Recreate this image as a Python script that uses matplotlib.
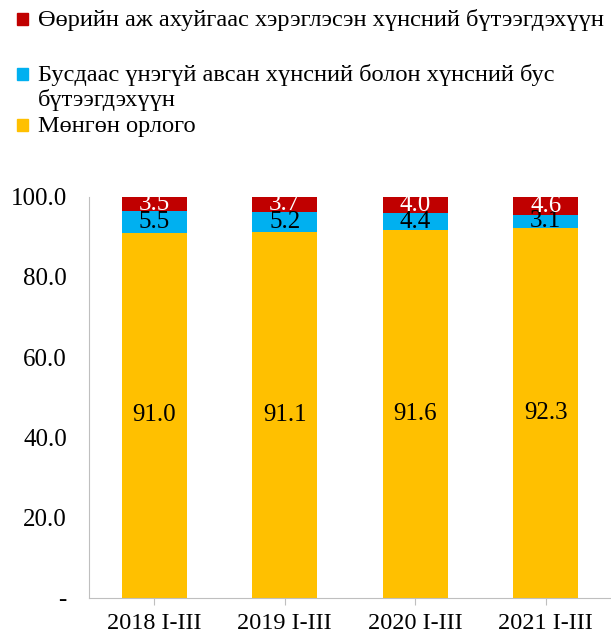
import matplotlib.pyplot as plt
from matplotlib.patches import Rectangle

plt.rcParams['font.family'] = ['Liberation Serif', 'DejaVu Serif']

categories = ['2018 I-III', '2019 I-III', '2020 I-III', '2021 I-III']
income = [91.0, 91.1, 91.6, 92.3]
free_goods = [5.5, 5.2, 4.4, 3.1]
own_farm = [3.5, 3.7, 4.0, 4.6]

series_names = ['Өөрийн аж ахуйгаас хэрэглэсэн хүнсний бүтээгдэхүүн',
                'Бусдаас үнэгүй авсан хүнсний болон хүнсний бус\nбүтээгдэхүүн',
                'Мөнгөн орлого']

c_red = '#C00000'
c_blue = '#00B0F0'
c_yellow = '#FFC000'

fig = plt.figure(figsize=(6.11, 6.33), dpi=100)
ax = fig.add_axes([0.1457, 0.0553, 0.8543, 0.634])

x = range(len(categories))
w = 0.5
b1 = ax.bar(x, income, w, color=c_yellow)
b2 = ax.bar(x, free_goods, w, bottom=income, color=c_blue)
bottom3 = [a + b for a, b in zip(income, free_goods)]
b3 = ax.bar(x, own_farm, w, bottom=bottom3, color=c_red)

ax.bar_label(b1, fmt='%.1f', label_type='center', fontsize=18, color='black')
ax.bar_label(b2, fmt='%.1f', label_type='center', fontsize=18, color='black')
ax.bar_label(b3, fmt='%.1f', label_type='center', fontsize=18, color='white')

ax.set_xlim(-0.5, 3.5)
ax.set_ylim(0, 100)
ax.set_xticks(list(x))
ax.set_xticklabels(categories)
ax.set_yticks([0, 20, 40, 60, 80, 100])
ax.set_yticklabels(['-', '20.0', '40.0', '60.0', '80.0', '100.0'])
ax.tick_params(axis='y', length=0, pad=16, labelsize=18)
ax.tick_params(axis='x', length=5, pad=6, labelsize=17.5, color='#BFBFBF')
for s in ['top', 'right']:
    ax.spines[s].set_visible(False)
for s in ['left', 'bottom']:
    ax.spines[s].set_color('#BFBFBF')

# legend drawn by hand to keep Excel spacing (y in pixels from top)
H = 633.0
legend_rows = [(20, c_red, series_names[0]),
               (75, c_blue, series_names[1]),
               (126, c_yellow, series_names[2])]
for ypx, col, name in legend_rows:
    fig.patches.append(Rectangle((17 / 611, 1 - (ypx + 5) / H), 11 / 611, 12 / H,
                                 transform=fig.transFigure, color=col))
    for i, line in enumerate(name.split('\n')):
        fig.text(38 / 611, 1 - (ypx + 25 * i) / H, line, fontsize=17.6,
                 va='center', ha='left')

fig.savefig('out.png', dpi=100)
